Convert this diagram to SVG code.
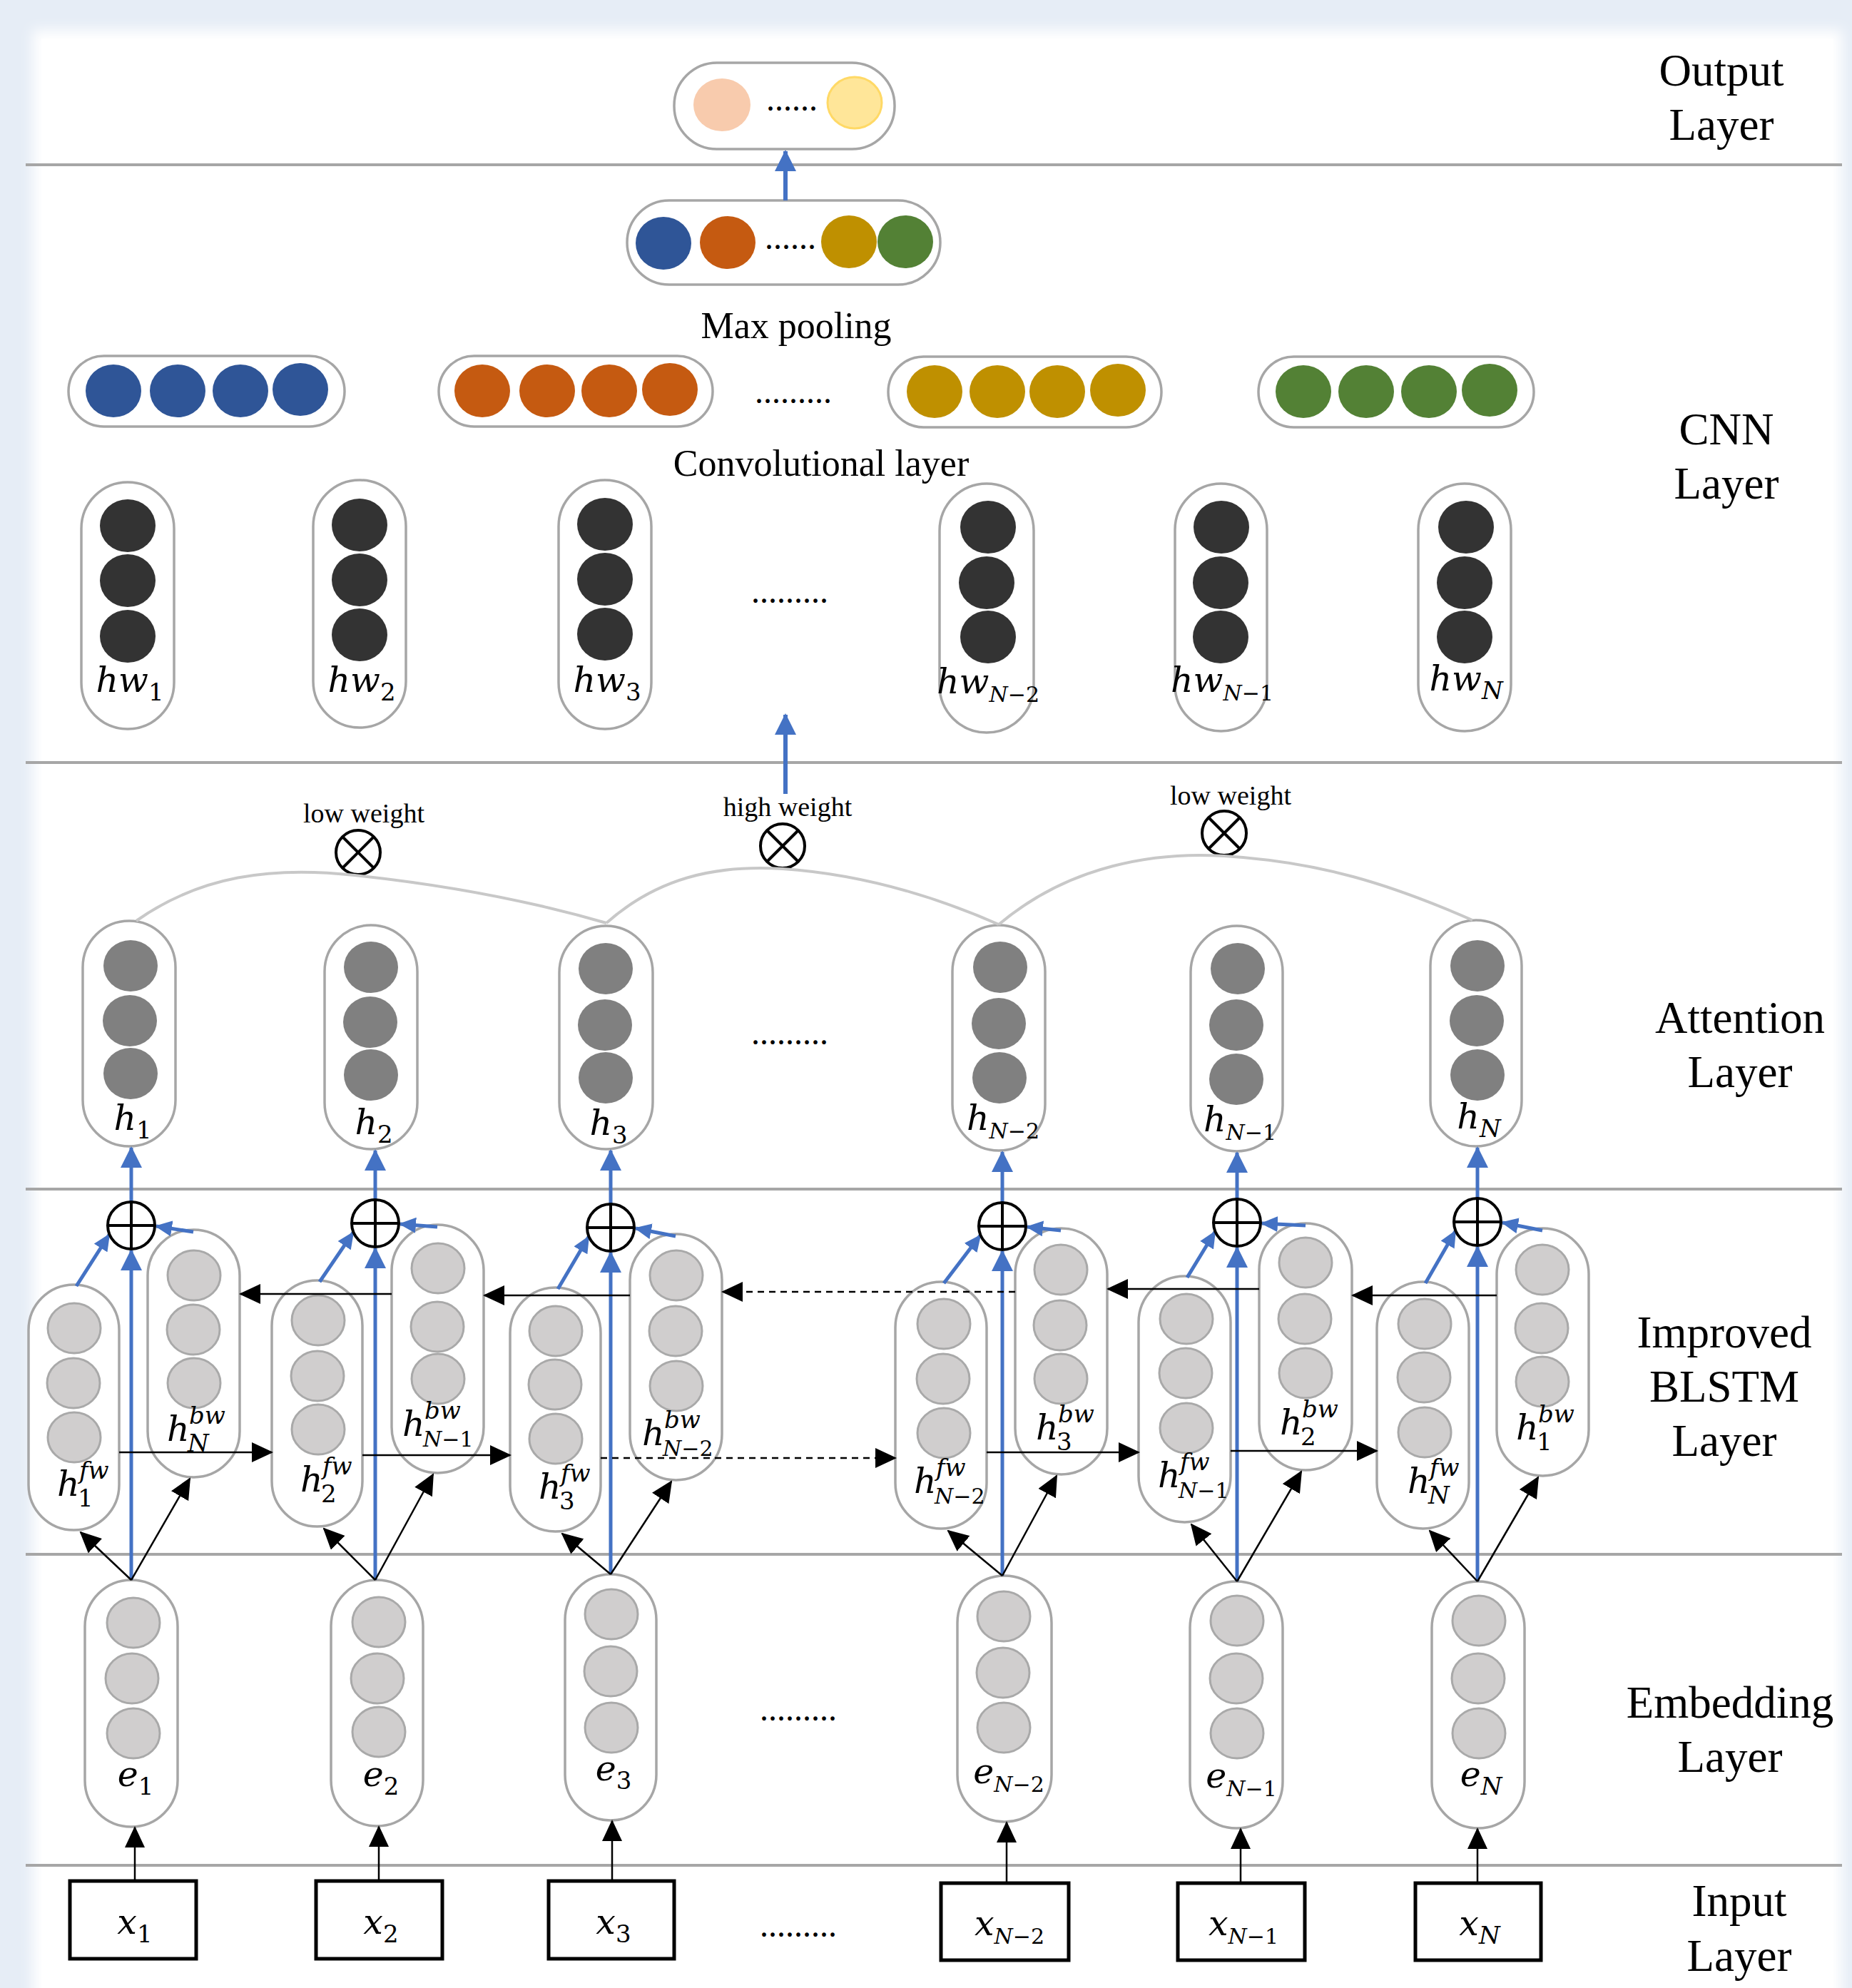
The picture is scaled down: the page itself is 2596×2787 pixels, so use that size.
<svg xmlns="http://www.w3.org/2000/svg" width="2596" height="2787" viewBox="0 0 2596 2787">
<style>
.sep{stroke:#a6a6a6;stroke-width:4}
.pill{fill:#fff;stroke:#a6a6a6;stroke-width:3.5}
.dk{fill:#333}
.md{fill:#808080}
.lt{fill:#d0cece;stroke:#a9a9a9;stroke-width:3}
.lbl{font-family:"Liberation Serif","Times New Roman",serif;font-size:63px;text-anchor:middle;fill:#000}
.cap{font-family:"Liberation Serif","Times New Roman",serif;font-size:52px;text-anchor:middle;fill:#000}
.wt{font-family:"Liberation Serif","Times New Roman",serif;font-size:38px;text-anchor:middle;fill:#000}
.dots{font-family:"Liberation Serif","Times New Roman",serif;font-size:48px;text-anchor:middle;fill:#000}
.m{font-family:"DejaVu Serif",serif;font-style:italic;font-size:49px;fill:#000}
.mid{text-anchor:middle}
.s{font-size:34px}
.s2{font-size:30px}
.up{font-style:normal}
.blue{stroke:#4472c4;stroke-width:5;fill:none}
.bluet{stroke:#4472c4;stroke-width:6;fill:none}
.blk{stroke:#000;stroke-width:2.5;fill:none}
.dash{stroke-dasharray:9 7}
.curve{stroke:#c8c8c8;stroke-width:4;fill:none}
.op{fill:#fff;stroke:#000;stroke-width:4}
.opl{stroke:#000;stroke-width:4}
.box{fill:#fff;stroke:#000;stroke-width:5}
</style>
<defs>
<filter id="soft" x="-5%" y="-5%" width="110%" height="110%"><feGaussianBlur stdDeviation="9"/></filter>
<marker id="ab" viewBox="0 0 30 30" refX="28" refY="15" markerWidth="30" markerHeight="30" markerUnits="userSpaceOnUse" orient="auto"><path d="M0,0 L30,15 L0,30 z" fill="#4472c4"/></marker>
<marker id="abs" viewBox="0 0 24 22" refX="22" refY="11" markerWidth="24" markerHeight="22" markerUnits="userSpaceOnUse" orient="auto"><path d="M0,0 L24,11 L0,22 z" fill="#4472c4"/></marker>
<marker id="ak" viewBox="0 0 30 28" refX="28" refY="14" markerWidth="30" markerHeight="28" markerUnits="userSpaceOnUse" orient="auto"><path d="M0,0 L30,14 L0,28 z" fill="#000"/></marker>
</defs>

<rect width="2596" height="2787" fill="#e6edf6"/>
<rect x="46" y="42" width="2536" height="2780" fill="#fff" filter="url(#soft)"/>
<rect x="58" y="54" width="2512" height="2733" fill="#fff"/>

<g id="separators">
<line class="sep" x1="36" y1="231" x2="2582" y2="231"/>
<line class="sep" x1="36" y1="1069" x2="2582" y2="1069"/>
<line class="sep" x1="36" y1="1667" x2="2582" y2="1667"/>
<line class="sep" x1="36" y1="2179" x2="2582" y2="2179"/>
<line class="sep" x1="36" y1="2615" x2="2582" y2="2615"/>
</g>

<g id="layer-labels">
<text class="lbl" x="2413" y="120">Output</text>
<text class="lbl" x="2413" y="196">Layer</text>
<text class="lbl" x="2420" y="623">CNN</text>
<text class="lbl" x="2420" y="699">Layer</text>
<text class="lbl" x="2439" y="1448">Attention</text>
<text class="lbl" x="2439" y="1524">Layer</text>
<text class="lbl" x="2417" y="1889">Improved</text>
<text class="lbl" x="2417" y="1965">BLSTM</text>
<text class="lbl" x="2417" y="2041">Layer</text>
<text class="lbl" x="2425" y="2408">Embedding</text>
<text class="lbl" x="2425" y="2484">Layer</text>
<text class="lbl" x="2438" y="2686">Input</text>
<text class="lbl" x="2438" y="2763">Layer</text>
</g>

<g id="output-node">
<rect class="pill" x="945" y="88" width="309" height="121" rx="60"/>
<ellipse cx="1012" cy="147" rx="40" ry="37" fill="#f8cbad"/>
<text class="dots" x="1110" y="155">......</text>
<ellipse cx="1198" cy="144" rx="38" ry="36" fill="#ffe699" stroke="#ffd966" stroke-width="3"/>
</g>

<g id="maxpool-node">
<rect class="pill" x="879" y="281" width="439" height="118" rx="59"/>
<ellipse cx="930" cy="341" rx="39" ry="37" fill="#2f5597"/>
<ellipse cx="1020" cy="340" rx="39" ry="37" fill="#c55a11"/>
<text class="dots" x="1108" y="349">......</text>
<ellipse cx="1190" cy="339" rx="39" ry="37" fill="#bf9000"/>
<ellipse cx="1269" cy="339" rx="39" ry="37" fill="#538135"/>
<text class="cap" x="1116" y="474">Max pooling</text>
</g>

<g id="conv-1">
<rect class="pill" x="96" y="499" width="387" height="99" rx="49.5"/>
<ellipse cx="159" cy="548" rx="39" ry="37" fill="#2f5597"/>
<ellipse cx="249" cy="548" rx="39" ry="37" fill="#2f5597"/>
<ellipse cx="337" cy="548" rx="39" ry="37" fill="#2f5597"/>
<ellipse cx="421" cy="546" rx="39" ry="37" fill="#2f5597"/>
</g>
<g id="conv-2">
<rect class="pill" x="615" y="499" width="384" height="99" rx="49.5"/>
<ellipse cx="676" cy="548" rx="39" ry="37" fill="#c55a11"/>
<ellipse cx="767" cy="548" rx="39" ry="37" fill="#c55a11"/>
<ellipse cx="854" cy="548" rx="39" ry="37" fill="#c55a11"/>
<ellipse cx="939" cy="546" rx="39" ry="37" fill="#c55a11"/>
</g>
<text class="dots" x="1112" y="565">.........</text>
<g id="conv-3">
<rect class="pill" x="1245" y="500" width="383" height="99" rx="49.5"/>
<ellipse cx="1310" cy="549" rx="39" ry="37" fill="#bf9000"/>
<ellipse cx="1398" cy="549" rx="39" ry="37" fill="#bf9000"/>
<ellipse cx="1482" cy="549" rx="39" ry="37" fill="#bf9000"/>
<ellipse cx="1567" cy="547" rx="39" ry="37" fill="#bf9000"/>
</g>
<g id="conv-4">
<rect class="pill" x="1764" y="500" width="386" height="99" rx="49.5"/>
<ellipse cx="1827" cy="549" rx="39" ry="37" fill="#538135"/>
<ellipse cx="1915" cy="549" rx="39" ry="37" fill="#538135"/>
<ellipse cx="2003" cy="549" rx="39" ry="37" fill="#538135"/>
<ellipse cx="2088" cy="547" rx="39" ry="37" fill="#538135"/>
</g>
<text class="cap" x="1151" y="667">Convolutional layer</text>

<g id="hw-1">
<rect class="pill" x="114" y="676" width="130" height="346" rx="65"/>
<ellipse class="dk" cx="179" cy="737" rx="39" ry="37"/>
<ellipse class="dk" cx="179" cy="814" rx="39" ry="37"/>
<ellipse class="dk" cx="179" cy="892" rx="39" ry="37"/>
<text class="m mid" x="182" y="970">hw<tspan class="s up" dy="12">1</tspan></text>
</g>
<g id="hw-2">
<rect class="pill" x="439" y="673" width="130" height="347" rx="65"/>
<ellipse class="dk" cx="504" cy="736" rx="39" ry="37"/>
<ellipse class="dk" cx="504" cy="813" rx="39" ry="37"/>
<ellipse class="dk" cx="504" cy="890" rx="39" ry="37"/>
<text class="m mid" x="507" y="970">hw<tspan class="s up" dy="12">2</tspan></text>
</g>
<g id="hw-3">
<rect class="pill" x="783" y="673" width="130" height="349" rx="65"/>
<ellipse class="dk" cx="848" cy="735" rx="39" ry="37"/>
<ellipse class="dk" cx="848" cy="812" rx="39" ry="37"/>
<ellipse class="dk" cx="848" cy="889" rx="39" ry="37"/>
<text class="m mid" x="851" y="970">hw<tspan class="s up" dy="12">3</tspan></text>
</g>
<text class="dots" x="1107" y="845">.........</text>
<g id="hw-N-2">
<rect class="pill" x="1317" y="678" width="132" height="349" rx="66"/>
<ellipse class="dk" cx="1385" cy="739" rx="39" ry="37"/>
<ellipse class="dk" cx="1383" cy="817" rx="39" ry="37"/>
<ellipse class="dk" cx="1385" cy="893" rx="39" ry="37"/>
<text class="m mid" x="1385" y="972">hw<tspan class="s2" dy="12">N<tspan class="up">−2</tspan></tspan></text>
</g>
<g id="hw-N-1">
<rect class="pill" x="1647" y="678" width="129" height="347" rx="64.5"/>
<ellipse class="dk" cx="1712" cy="739" rx="39" ry="37"/>
<ellipse class="dk" cx="1711" cy="817" rx="39" ry="37"/>
<ellipse class="dk" cx="1711" cy="893" rx="39" ry="37"/>
<text class="m mid" x="1713" y="970">hw<tspan class="s2" dy="12">N<tspan class="up">−1</tspan></tspan></text>
</g>
<g id="hw-N">
<rect class="pill" x="1988" y="678" width="130" height="347" rx="65"/>
<ellipse class="dk" cx="2055" cy="739" rx="39" ry="37"/>
<ellipse class="dk" cx="2053" cy="817" rx="39" ry="37"/>
<ellipse class="dk" cx="2053" cy="893" rx="39" ry="37"/>
<text class="m mid" x="2055" y="968">hw<tspan class="s" dy="12">N</tspan></text>
</g>

<g id="weight-1">
<text class="wt" x="510" y="1153">low weight</text>
<circle class="op" cx="502" cy="1195" r="31"/>
<line class="opl" x1="480" y1="1173" x2="524" y2="1217"/>
<line class="opl" x1="524" y1="1173" x2="480" y2="1217"/>
</g>
<g id="weight-2">
<text class="wt" x="1104" y="1144">high weight</text>
<circle class="op" cx="1097" cy="1186" r="31"/>
<line class="opl" x1="1075" y1="1164" x2="1119" y2="1208"/>
<line class="opl" x1="1119" y1="1164" x2="1075" y2="1208"/>
</g>
<g id="weight-3">
<text class="wt" x="1725" y="1128">low weight</text>
<circle class="op" cx="1716" cy="1168" r="31"/>
<line class="opl" x1="1694" y1="1146" x2="1738" y2="1190"/>
<line class="opl" x1="1738" y1="1146" x2="1694" y2="1190"/>
</g>

<g id="attn-1">
<rect class="pill" x="116" y="1291" width="130" height="316" rx="65"/>
<ellipse class="md" cx="183" cy="1354" rx="38" ry="36"/>
<ellipse class="md" cx="182" cy="1431" rx="38" ry="36"/>
<ellipse class="md" cx="183" cy="1505" rx="38" ry="36"/>
<text class="m mid" x="186" y="1584">h<tspan class="s up" dy="12">1</tspan></text>
</g>
<g id="attn-2">
<rect class="pill" x="455" y="1297" width="130" height="314" rx="65"/>
<ellipse class="md" cx="520" cy="1356" rx="38" ry="36"/>
<ellipse class="md" cx="519" cy="1433" rx="38" ry="36"/>
<ellipse class="md" cx="520" cy="1507" rx="38" ry="36"/>
<text class="m mid" x="524" y="1590">h<tspan class="s up" dy="12">2</tspan></text>
</g>
<g id="attn-3">
<rect class="pill" x="784" y="1298" width="131" height="313" rx="65.5"/>
<ellipse class="md" cx="849" cy="1358" rx="38" ry="36"/>
<ellipse class="md" cx="848" cy="1437" rx="38" ry="36"/>
<ellipse class="md" cx="849" cy="1511" rx="38" ry="36"/>
<text class="m mid" x="853" y="1591">h<tspan class="s up" dy="12">3</tspan></text>
</g>
<text class="dots" x="1107" y="1464">.........</text>
<g id="attn-N-2">
<rect class="pill" x="1335" y="1297" width="130" height="316" rx="65"/>
<ellipse class="md" cx="1402" cy="1356" rx="38" ry="36"/>
<ellipse class="md" cx="1400" cy="1435" rx="38" ry="36"/>
<ellipse class="md" cx="1401" cy="1511" rx="38" ry="36"/>
<text class="m mid" x="1406" y="1584">h<tspan class="s2" dy="12">N<tspan class="up">−2</tspan></tspan></text>
</g>
<g id="attn-N-1">
<rect class="pill" x="1669" y="1298" width="129" height="316" rx="64.5"/>
<ellipse class="md" cx="1735" cy="1358" rx="38" ry="36"/>
<ellipse class="md" cx="1733" cy="1437" rx="38" ry="36"/>
<ellipse class="md" cx="1733" cy="1513" rx="38" ry="36"/>
<text class="m mid" x="1738" y="1586">h<tspan class="s2" dy="12">N<tspan class="up">−1</tspan></tspan></text>
</g>
<g id="attn-N">
<rect class="pill" x="2005" y="1290" width="128" height="317" rx="64"/>
<ellipse class="md" cx="2071" cy="1354" rx="38" ry="36"/>
<ellipse class="md" cx="2070" cy="1431" rx="38" ry="36"/>
<ellipse class="md" cx="2071" cy="1507" rx="38" ry="36"/>
<text class="m mid" x="2073" y="1582">h<tspan class="s" dy="12">N</tspan></text>
</g>

<g id="fw-1">
<rect class="pill" x="40" y="1801" width="127" height="344" rx="63.5"/>
<ellipse class="lt" cx="104" cy="1862" rx="37" ry="35"/>
<ellipse class="lt" cx="103" cy="1939" rx="37" ry="35"/>
<ellipse class="lt" cx="104" cy="2015" rx="37" ry="35"/>
<text class="m" x="80" y="2097">h</text><text class="m s" x="111" y="2073">fw</text><text class="m s up" x="109" y="2112">1</text>
</g>
<g id="bw-1">
<rect class="pill" x="207" y="1724" width="129" height="347" rx="64.5"/>
<ellipse class="lt" cx="272" cy="1788" rx="37" ry="35"/>
<ellipse class="lt" cx="271" cy="1864" rx="37" ry="35"/>
<ellipse class="lt" cx="272" cy="1939" rx="37" ry="35"/>
<text class="m" x="234" y="2020">h</text><text class="m s" x="265" y="1996">bw</text><text class="m s" x="263" y="2035">N</text>
</g>
<g id="fw-2">
<rect class="pill" x="381" y="1795" width="127" height="345" rx="63.5"/>
<ellipse class="lt" cx="446" cy="1851" rx="37" ry="35"/>
<ellipse class="lt" cx="445" cy="1929" rx="37" ry="35"/>
<ellipse class="lt" cx="446" cy="2004" rx="37" ry="35"/>
<text class="m" x="421" y="2091">h</text><text class="m s" x="452" y="2067">fw</text><text class="m s up" x="450" y="2106">2</text>
</g>
<g id="bw-2">
<rect class="pill" x="549" y="1717" width="129" height="348" rx="64.5"/>
<ellipse class="lt" cx="614" cy="1778" rx="37" ry="35"/>
<ellipse class="lt" cx="613" cy="1860" rx="37" ry="35"/>
<ellipse class="lt" cx="614" cy="1933" rx="37" ry="35"/>
<text class="m" x="564" y="2013">h</text><text class="m s" x="595" y="1989">bw</text><text class="m s2" x="593" y="2028">N<tspan class="up">−1</tspan></text>
</g>
<g id="fw-3">
<rect class="pill" x="715" y="1805" width="127" height="342" rx="63.5"/>
<ellipse class="lt" cx="779" cy="1866" rx="37" ry="35"/>
<ellipse class="lt" cx="778" cy="1941" rx="37" ry="35"/>
<ellipse class="lt" cx="779" cy="2017" rx="37" ry="35"/>
<text class="m" x="755" y="2101">h</text><text class="m s" x="786" y="2077">fw</text><text class="m s up" x="784" y="2116">3</text>
</g>
<g id="bw-3">
<rect class="pill" x="883" y="1730" width="129" height="345" rx="64.5"/>
<ellipse class="lt" cx="948" cy="1788" rx="37" ry="35"/>
<ellipse class="lt" cx="947" cy="1866" rx="37" ry="35"/>
<ellipse class="lt" cx="948" cy="1943" rx="37" ry="35"/>
<text class="m" x="900" y="2026">h</text><text class="m s" x="931" y="2002">bw</text><text class="m s2" x="929" y="2041">N<tspan class="up">−2</tspan></text>
</g>
<g id="fw-N-2">
<rect class="pill" x="1255" y="1797" width="128" height="346" rx="64"/>
<ellipse class="lt" cx="1323" cy="1856" rx="37" ry="35"/>
<ellipse class="lt" cx="1322" cy="1933" rx="37" ry="35"/>
<ellipse class="lt" cx="1323" cy="2009" rx="37" ry="35"/>
<text class="m" x="1281" y="2093">h</text><text class="m s" x="1312" y="2069">fw</text><text class="m s2" x="1310" y="2108">N<tspan class="up">−2</tspan></text>
</g>
<g id="bw-N-2">
<rect class="pill" x="1423" y="1722" width="129" height="345" rx="64.5"/>
<ellipse class="lt" cx="1487" cy="1780" rx="37" ry="35"/>
<ellipse class="lt" cx="1486" cy="1858" rx="37" ry="35"/>
<ellipse class="lt" cx="1487" cy="1933" rx="37" ry="35"/>
<text class="m" x="1452" y="2018">h</text><text class="m s" x="1483" y="1994">bw</text><text class="m s up" x="1481" y="2033">3</text>
</g>
<g id="fw-N-1">
<rect class="pill" x="1596" y="1789" width="129" height="345" rx="64.5"/>
<ellipse class="lt" cx="1663" cy="1849" rx="37" ry="35"/>
<ellipse class="lt" cx="1662" cy="1925" rx="37" ry="35"/>
<ellipse class="lt" cx="1663" cy="2002" rx="37" ry="35"/>
<text class="m" x="1623" y="2085">h</text><text class="m s" x="1654" y="2061">fw</text><text class="m s2" x="1652" y="2100">N<tspan class="up">−1</tspan></text>
</g>
<g id="bw-N-1">
<rect class="pill" x="1765" y="1715" width="130" height="346" rx="65"/>
<ellipse class="lt" cx="1830" cy="1770" rx="37" ry="35"/>
<ellipse class="lt" cx="1829" cy="1849" rx="37" ry="35"/>
<ellipse class="lt" cx="1830" cy="1925" rx="37" ry="35"/>
<text class="m" x="1794" y="2011">h</text><text class="m s" x="1825" y="1987">bw</text><text class="m s up" x="1823" y="2026">2</text>
</g>
<g id="fw-N">
<rect class="pill" x="1930" y="1797" width="129" height="346" rx="64.5"/>
<ellipse class="lt" cx="1997" cy="1856" rx="37" ry="35"/>
<ellipse class="lt" cx="1996" cy="1931" rx="37" ry="35"/>
<ellipse class="lt" cx="1997" cy="2008" rx="37" ry="35"/>
<text class="m" x="1973" y="2093">h</text><text class="m s" x="2004" y="2069">fw</text><text class="m s" x="2002" y="2108">N</text>
</g>
<g id="bw-N">
<rect class="pill" x="2098" y="1722" width="129" height="347" rx="64.5"/>
<ellipse class="lt" cx="2162" cy="1780" rx="37" ry="35"/>
<ellipse class="lt" cx="2161" cy="1862" rx="37" ry="35"/>
<ellipse class="lt" cx="2162" cy="1937" rx="37" ry="35"/>
<text class="m" x="2125" y="2018">h</text><text class="m s" x="2156" y="1994">bw</text><text class="m s up" x="2154" y="2033">1</text>
</g>

<g id="emb-1">
<rect class="pill" x="119" y="2215" width="130" height="346" rx="65"/>
<ellipse class="lt" cx="187" cy="2275" rx="37" ry="35"/>
<ellipse class="lt" cx="185" cy="2353" rx="37" ry="35"/>
<ellipse class="lt" cx="187" cy="2430" rx="37" ry="35"/>
<text class="m mid" x="190" y="2504">e<tspan class="s up" dy="12">1</tspan></text>
</g>
<g id="emb-2">
<rect class="pill" x="464" y="2215" width="129" height="345" rx="64.5"/>
<ellipse class="lt" cx="531" cy="2274" rx="37" ry="35"/>
<ellipse class="lt" cx="529" cy="2353" rx="37" ry="35"/>
<ellipse class="lt" cx="531" cy="2428" rx="37" ry="35"/>
<text class="m mid" x="534" y="2504">e<tspan class="s up" dy="12">2</tspan></text>
</g>
<g id="emb-3">
<rect class="pill" x="792" y="2207" width="128" height="345" rx="64"/>
<ellipse class="lt" cx="857" cy="2263" rx="37" ry="35"/>
<ellipse class="lt" cx="856" cy="2343" rx="37" ry="35"/>
<ellipse class="lt" cx="857" cy="2422" rx="37" ry="35"/>
<text class="m mid" x="860" y="2496">e<tspan class="s up" dy="12">3</tspan></text>
</g>
<text class="dots" x="1119" y="2412">.........</text>
<g id="emb-N-2">
<rect class="pill" x="1342" y="2209" width="132" height="345" rx="66"/>
<ellipse class="lt" cx="1407" cy="2266" rx="37" ry="35"/>
<ellipse class="lt" cx="1406" cy="2345" rx="37" ry="35"/>
<ellipse class="lt" cx="1407" cy="2422" rx="37" ry="35"/>
<text class="m mid" x="1414" y="2500">e<tspan class="s2" dy="12">N<tspan class="up">−2</tspan></tspan></text>
</g>
<g id="emb-N-1">
<rect class="pill" x="1668" y="2217" width="130" height="346" rx="65"/>
<ellipse class="lt" cx="1734" cy="2272" rx="37" ry="35"/>
<ellipse class="lt" cx="1733" cy="2353" rx="37" ry="35"/>
<ellipse class="lt" cx="1734" cy="2430" rx="37" ry="35"/>
<text class="m mid" x="1740" y="2506">e<tspan class="s2" dy="12">N<tspan class="up">−1</tspan></tspan></text>
</g>
<g id="emb-N">
<rect class="pill" x="2007" y="2217" width="130" height="346" rx="65"/>
<ellipse class="lt" cx="2073" cy="2272" rx="37" ry="35"/>
<ellipse class="lt" cx="2072" cy="2353" rx="37" ry="35"/>
<ellipse class="lt" cx="2073" cy="2430" rx="37" ry="35"/>
<text class="m mid" x="2076" y="2504">e<tspan class="s" dy="12">N</tspan></text>
</g>

<g id="input-1"><rect class="box" x="98" y="2637" width="177" height="109"/><text class="m mid" x="189" y="2711">x<tspan class="s up" dy="12">1</tspan></text></g>
<g id="input-2"><rect class="box" x="443" y="2637" width="177" height="109"/><text class="m mid" x="534" y="2711">x<tspan class="s up" dy="12">2</tspan></text></g>
<g id="input-3"><rect class="box" x="769" y="2637" width="176" height="109"/><text class="m mid" x="860" y="2711">x<tspan class="s up" dy="12">3</tspan></text></g>
<text class="dots" x="1119" y="2715">.........</text>
<g id="input-N-2"><rect class="box" x="1319" y="2640" width="179" height="108"/><text class="m mid" x="1415" y="2713">x<tspan class="s2" dy="12">N<tspan class="up">−2</tspan></tspan></text></g>
<g id="input-N-1"><rect class="box" x="1651" y="2640" width="178" height="108"/><text class="m mid" x="1743" y="2713">x<tspan class="s2" dy="12">N<tspan class="up">−1</tspan></tspan></text></g>
<g id="input-N"><rect class="box" x="1984" y="2640" width="176" height="108"/><text class="m mid" x="2074" y="2713">x<tspan class="s" dy="12">N</tspan></text></g>

<g id="connectors">
<path class="curve" d="M191 1291 C 280 1228, 380 1214, 497 1227 C 620 1240, 740 1262, 850 1294" stroke-width="5"/>
<path class="curve" d="M850 1294 C 920 1232, 1000 1212, 1097 1218 C 1200 1225, 1300 1252, 1400 1296"/>
<path class="curve" d="M1400 1296 C 1500 1212, 1620 1194, 1716 1200 C 1850 1208, 1950 1240, 2064 1290"/>
<line class="bluet" x1="1101" y1="281" x2="1101" y2="212" marker-end="url(#ab)"/>
<line class="bluet" x1="1101" y1="1113" x2="1101" y2="1002" marker-end="url(#ab)"/>
<line class="blue" x1="184" y1="2215" x2="184" y2="1753" marker-end="url(#ab)"/>
<line class="blue" x1="184" y1="1685" x2="184" y2="1609" marker-end="url(#ab)"/>
<line class="blue" x1="526" y1="2215" x2="526" y2="1750" marker-end="url(#ab)"/>
<line class="blue" x1="526" y1="1682" x2="526" y2="1613" marker-end="url(#ab)"/>
<line class="blue" x1="856" y1="2207" x2="856" y2="1756" marker-end="url(#ab)"/>
<line class="blue" x1="856" y1="1688" x2="856" y2="1613" marker-end="url(#ab)"/>
<line class="blue" x1="1405" y1="2209" x2="1405" y2="1754" marker-end="url(#ab)"/>
<line class="blue" x1="1405" y1="1686" x2="1405" y2="1615" marker-end="url(#ab)"/>
<line class="blue" x1="1734" y1="2217" x2="1734" y2="1749" marker-end="url(#ab)"/>
<line class="blue" x1="1734" y1="1681" x2="1734" y2="1616" marker-end="url(#ab)"/>
<line class="blue" x1="2071" y1="2217" x2="2071" y2="1748" marker-end="url(#ab)"/>
<line class="blue" x1="2071" y1="1680" x2="2071" y2="1609" marker-end="url(#ab)"/>
<line class="blue" x1="107" y1="1803" x2="153" y2="1731" marker-end="url(#abs)"/>
<line class="blue" x1="271" y1="1727" x2="219" y2="1719" marker-end="url(#abs)"/>
<line class="blue" x1="448" y1="1797" x2="495" y2="1728" marker-end="url(#abs)"/>
<line class="blue" x1="613" y1="1720" x2="561" y2="1716" marker-end="url(#abs)"/>
<line class="blue" x1="782" y1="1807" x2="825" y2="1734" marker-end="url(#abs)"/>
<line class="blue" x1="947" y1="1733" x2="891" y2="1722" marker-end="url(#abs)"/>
<line class="blue" x1="1323" y1="1799" x2="1374" y2="1732" marker-end="url(#abs)"/>
<line class="blue" x1="1487" y1="1725" x2="1440" y2="1720" marker-end="url(#abs)"/>
<line class="blue" x1="1664" y1="1791" x2="1703" y2="1727" marker-end="url(#abs)"/>
<line class="blue" x1="1830" y1="1718" x2="1769" y2="1715" marker-end="url(#abs)"/>
<line class="blue" x1="1998" y1="1799" x2="2040" y2="1726" marker-end="url(#abs)"/>
<line class="blue" x1="2162" y1="1725" x2="2106" y2="1714" marker-end="url(#abs)"/>
<line class="blk" x1="184" y1="2215" x2="113" y2="2148" marker-end="url(#ak)"/>
<line class="blk" x1="184" y1="2215" x2="266" y2="2073" marker-end="url(#ak)"/>
<line class="blk" x1="526" y1="2215" x2="454" y2="2143" marker-end="url(#ak)"/>
<line class="blk" x1="526" y1="2215" x2="607" y2="2067" marker-end="url(#ak)"/>
<line class="blk" x1="856" y1="2207" x2="788" y2="2150" marker-end="url(#ak)"/>
<line class="blk" x1="856" y1="2207" x2="941" y2="2077" marker-end="url(#ak)"/>
<line class="blk" x1="1405" y1="2209" x2="1329" y2="2146" marker-end="url(#ak)"/>
<line class="blk" x1="1405" y1="2209" x2="1481" y2="2069" marker-end="url(#ak)"/>
<line class="blk" x1="1734" y1="2217" x2="1670" y2="2137" marker-end="url(#ak)"/>
<line class="blk" x1="1734" y1="2217" x2="1824" y2="2063" marker-end="url(#ak)"/>
<line class="blk" x1="2071" y1="2217" x2="2004" y2="2146" marker-end="url(#ak)"/>
<line class="blk" x1="2071" y1="2217" x2="2156" y2="2071" marker-end="url(#ak)"/>
<line class="blk" x1="167" y1="2036" x2="381" y2="2036" marker-end="url(#ak)"/>
<line class="blk" x1="508" y1="2040" x2="715" y2="2040" marker-end="url(#ak)"/>
<line class="blk dash" x1="842" y1="2044" x2="1255" y2="2044" marker-end="url(#ak)"/>
<line class="blk" x1="1383" y1="2036" x2="1596" y2="2036" marker-end="url(#ak)"/>
<line class="blk" x1="1725" y1="2034" x2="1930" y2="2034" marker-end="url(#ak)"/>
<line class="blk" x1="549" y1="1814" x2="337" y2="1814" marker-end="url(#ak)"/>
<line class="blk" x1="883" y1="1816" x2="679" y2="1816" marker-end="url(#ak)"/>
<line class="blk dash" x1="1423" y1="1811" x2="1013" y2="1811" marker-end="url(#ak)"/>
<line class="blk" x1="1765" y1="1807" x2="1553" y2="1807" marker-end="url(#ak)"/>
<line class="blk" x1="2098" y1="1816" x2="1896" y2="1816" marker-end="url(#ak)"/>
<line class="blk" x1="189" y1="2637" x2="189" y2="2562" marker-end="url(#ak)"/>
<line class="blk" x1="531" y1="2637" x2="531" y2="2561" marker-end="url(#ak)"/>
<line class="blk" x1="858" y1="2637" x2="858" y2="2553" marker-end="url(#ak)"/>
<line class="blk" x1="1411" y1="2640" x2="1411" y2="2555" marker-end="url(#ak)"/>
<line class="blk" x1="1739" y1="2640" x2="1739" y2="2564" marker-end="url(#ak)"/>
<line class="blk" x1="2071" y1="2640" x2="2071" y2="2564" marker-end="url(#ak)"/>
</g>

<g id="add-1"><circle class="op" cx="184" cy="1718" r="33"/><line class="opl" x1="151" y1="1718" x2="217" y2="1718"/><line class="opl" x1="184" y1="1685" x2="184" y2="1751"/></g>
<g id="add-2"><circle class="op" cx="526" cy="1715" r="33"/><line class="opl" x1="493" y1="1715" x2="559" y2="1715"/><line class="opl" x1="526" y1="1682" x2="526" y2="1748"/></g>
<g id="add-3"><circle class="op" cx="856" cy="1721" r="33"/><line class="opl" x1="823" y1="1721" x2="889" y2="1721"/><line class="opl" x1="856" y1="1688" x2="856" y2="1754"/></g>
<g id="add-4"><circle class="op" cx="1405" cy="1719" r="33"/><line class="opl" x1="1372" y1="1719" x2="1438" y2="1719"/><line class="opl" x1="1405" y1="1686" x2="1405" y2="1752"/></g>
<g id="add-5"><circle class="op" cx="1734" cy="1714" r="33"/><line class="opl" x1="1701" y1="1714" x2="1767" y2="1714"/><line class="opl" x1="1734" y1="1681" x2="1734" y2="1747"/></g>
<g id="add-6"><circle class="op" cx="2071" cy="1713" r="33"/><line class="opl" x1="2038" y1="1713" x2="2104" y2="1713"/><line class="opl" x1="2071" y1="1680" x2="2071" y2="1746"/></g>
</svg>
